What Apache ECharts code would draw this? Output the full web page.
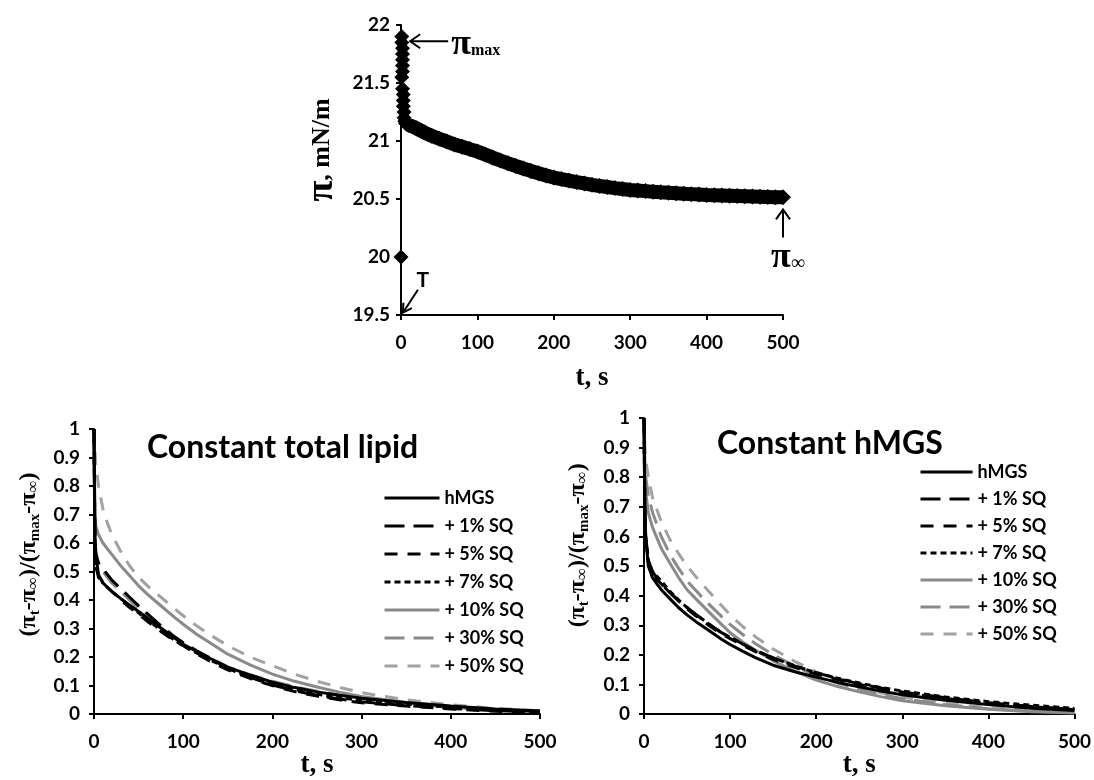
<!DOCTYPE html>
<html>
<head>
<meta charset="utf-8">
<script src="https://cdn.jsdelivr.net/npm/echarts@6/dist/echarts.min.js"></script>
<style>
  html, body { margin: 0; padding: 0; background: #fff; }
  #chart { width: 1094px; height: 780px; }
</style>
</head>
<body>
<div id="chart"></div>
<script>
// ---- top panel: surface pressure after the step (diamonds) ----
var peakT = [0, 1, 1, 2, 2, 2, 2, 2, 1, 2, 3, 3, 3, 4, 4, 5, 6];
var peakPi = [20, 21.9, 21.85, 21.8, 21.75, 21.7, 21.65, 21.6, 21.55, 21.45, 21.4, 21.35, 21.3, 21.25, 21.2, 21.17, 21.15];

var relaxT = [10, 20, 30, 40, 50, 60, 70, 80, 90, 100,
  110, 120, 130, 140, 150, 160, 170, 180, 190, 200,
  210, 220, 230, 240, 250, 260, 270, 280, 290, 300,
  310, 320, 330, 340, 350, 360, 370, 380, 390, 400,
  410, 420, 430, 440, 450, 460, 470, 480, 490, 500];
var relaxPi = [21.14, 21.11, 21.075, 21.045, 21.02, 20.995, 20.97, 20.95, 20.93, 20.91,
  20.883, 20.857, 20.832, 20.808, 20.785, 20.763, 20.742, 20.722, 20.703, 20.685,
  20.672, 20.659, 20.646, 20.634, 20.622, 20.612, 20.603, 20.594, 20.586, 20.578,
  20.573, 20.568, 20.563, 20.558, 20.554, 20.55, 20.546, 20.542, 20.538, 20.534,
  20.532, 20.53, 20.528, 20.526, 20.524, 20.522, 20.52, 20.518, 20.516, 20.515];

// ---- bottom panels: normalised relaxation ----
var decayT = [0, 1, 2, 5, 10, 15, 20, 30, 40, 50, 60, 75, 90, 100, 115, 130, 150, 175, 200, 225, 250, 275, 300, 350, 400, 450, 500];
var seriesNames = ['hMGS', '+ 1% SQ', '+ 5% SQ', '+ 7% SQ', '+ 10% SQ', '+ 30% SQ', '+ 50% SQ'];

// Constant total lipid
var lipidHMGS = [1, .64, .56, .49, .46, .445, .43, .405, .382, .36, .336, .302, .268, .245, .22, .196, .165, .137, .112, .093, .078, .066, .056, .041, .028, .018, .011];
var lipidSQ1  = [1, .6, .56, .53, .51, .49, .47, .44, .41, .38, .352, .31, .272, .25, .222, .196, .16, .129, .102, .082, .066, .053, .043, .03, .02, .012, .007];
var lipidSQ5  = [1, .58, .52, .48, .46, .445, .43, .4, .374, .35, .325, .29, .257, .24, .212, .186, .155, .125, .1, .079, .063, .05, .04, .028, .018, .01, .006];
var lipidSQ7  = [1, .57, .52, .49, .46, .445, .43, .405, .38, .355, .33, .295, .26, .24, .215, .19, .16, .13, .105, .086, .07, .058, .048, .035, .024, .015, .01];
var lipidSQ10 = [1, .7, .66, .63, .6, .58, .56, .52, .485, .45, .42, .38, .34, .315, .28, .25, .21, .173, .14, .115, .095, .077, .062, .04, .024, .014, .008];
var lipidSQ30 = [1, .62, .57, .53, .5, .48, .46, .43, .4, .37, .345, .305, .27, .25, .222, .198, .165, .138, .115, .096, .08, .067, .057, .04, .027, .017, .011];
var lipidSQ50 = [1, .93, .88, .8, .72, .67, .63, .57, .52, .48, .45, .41, .37, .345, .31, .278, .24, .2, .17, .14, .115, .094, .075, .05, .033, .02, .012];

// Constant hMGS
var hmgsHMGS = [1, .7, .6, .5, .46, .44, .42, .39, .36, .335, .313, .283, .253, .235, .212, .19, .165, .143, .125, .107, .092, .078, .065, .047, .032, .02, .012];
var hmgsSQ1  = [1, .68, .6, .52, .48, .46, .44, .41, .385, .36, .337, .305, .275, .26, .236, .214, .19, .163, .14, .12, .102, .088, .075, .055, .038, .026, .016];
var hmgsSQ5  = [1, .66, .58, .51, .47, .455, .44, .41, .382, .355, .332, .3, .27, .255, .232, .21, .185, .158, .135, .117, .1, .085, .072, .053, .037, .025, .015];
var hmgsSQ7  = [1, .67, .59, .52, .48, .465, .45, .415, .386, .36, .337, .305, .275, .26, .236, .214, .19, .163, .14, .121, .105, .09, .078, .058, .042, .03, .019];
var hmgsSQ10 = [1, .8, .75, .68, .63, .595, .56, .51, .462, .42, .39, .346, .303, .275, .243, .215, .18, .145, .115, .093, .075, .059, .045, .028, .016, .008, .004];
var hmgsSQ30 = [1, .85, .8, .74, .68, .64, .6, .54, .493, .45, .418, .372, .33, .303, .268, .237, .2, .162, .13, .105, .085, .067, .052, .032, .018, .01, .005];
var hmgsSQ50 = [1, .9, .86, .8, .73, .69, .65, .59, .543, .5, .465, .415, .367, .335, .295, .26, .22, .178, .142, .114, .091, .072, .057, .036, .022, .013, .007];

var lipidSets = [lipidHMGS, lipidSQ1, lipidSQ5, lipidSQ7, lipidSQ10, lipidSQ30, lipidSQ50];
var hmgsSets = [hmgsHMGS, hmgsSQ1, hmgsSQ5, hmgsSQ7, hmgsSQ10, hmgsSQ30, hmgsSQ50];

// line look per series (same order as seriesNames)
var lineLooks = [
  { color: '#000000', type: 'solid' },
  { color: '#000000', type: [20, 9] },
  { color: '#000000', type: [13, 10] },
  { color: '#000000', type: [6, 4] },
  { color: '#8a8a8a', type: 'solid' },
  { color: '#8a8a8a', type: [20, 9] },
  { color: '#a2a2a2', type: [13, 10] }
];

var serif = '"Liberation Serif", "DejaVu Serif", serif';
var sans = 'Lato, "Open Sans", sans-serif';

var chart = echarts.init(document.getElementById('chart'));

function pairs(xs, ys) {
  return xs.map(function (x, i) { return [x, ys[i]]; });
}

function xAxisOf(grid, gap, margin) {
  return {
    type: 'value', gridIndex: grid, min: 0, max: 500, interval: 100,
    name: 't, s', nameLocation: 'middle', nameGap: gap,
    nameTextStyle: { fontFamily: serif, fontWeight: 'bold', fontSize: 27, color: '#000' },
    axisLine: { lineStyle: { color: '#000', width: 2 } },
    axisTick: { inside: false, length: 5, lineStyle: { color: '#000', width: 2 } },
    axisLabel: { margin: margin, fontFamily: sans, fontWeight: 'bold', fontSize: 19, color: '#000' },
    splitLine: { show: false }
  };
}

function ratioAxis(grid) {
  return {
    type: 'value', gridIndex: grid, min: 0, max: 1, interval: 0.1,
    axisLine: { show: true, lineStyle: { color: '#000', width: 2 } },
    axisTick: { show: true, inside: false, length: 5, lineStyle: { color: '#000', width: 2 } },
    axisLabel: { margin: 14, fontFamily: sans, fontWeight: 'bold', fontSize: 19, color: '#000' },
    splitLine: { show: false }
  };
}

function decaySeries(sets, axisIdx) {
  return sets.map(function (vals, k) {
    return {
      name: seriesNames[k],
      type: 'line',
      xAxisIndex: axisIdx, yAxisIndex: axisIdx,
      data: pairs(decayT, vals),
      symbol: 'none',
      z: 10 - k,
      lineStyle: { color: lineLooks[k].color, type: lineLooks[k].type, width: 3 },
      itemStyle: { color: lineLooks[k].color }
    };
  });
}

function legendAt(left, top, gap, w) {
  return {
    data: seriesNames.map(function (n, k) {
      return {
        name: n,
        itemStyle: { opacity: 0 },
        lineStyle: { color: lineLooks[k].color, type: lineLooks[k].type, width: 3 }
      };
    }),
    orient: 'vertical', left: left, top: top,
    itemWidth: w, itemHeight: 14, itemGap: gap,
    textStyle: { fontFamily: sans, fontWeight: 'bold', fontSize: 18, color: '#000' }
  };
}

var option = {
  animation: false,
  backgroundColor: '#fff',
  title: [
    { text: 'Constant total lipid', left: 142, top: 427,
      textStyle: { fontFamily: sans, fontWeight: 'bold', fontSize: 32, color: '#000' } },
    { text: 'Constant hMGS', left: 712, top: 423,
      textStyle: { fontFamily: sans, fontWeight: 'bold', fontSize: 32, color: '#000' } }
  ],
  legend: [legendAt(378, 484, 10, 55), legendAt(914, 458, 9, 52)],
  grid: [
    { left: 401, top: 25, width: 382, height: 290 },
    { left: 94, top: 429, width: 446, height: 297 },
    { left: 644, top: 418, width: 434, height: 305 }
  ],
  xAxis: [xAxisOf(0, 50, 18), xAxisOf(1, 35, 18), xAxisOf(2, 35, 18)],
  yAxis: [
    {
      type: 'value', gridIndex: 0, min: 19.5, max: 22, interval: 0.5,
      name: '{p|π}{r|, mN/m}', nameLocation: 'middle', nameGap: 60, nameRotate: 90,
      nameTextStyle: {
        padding: [0, 0, 0, 40],
        rich: {
          p: { fontFamily: serif, fontWeight: 'bold', fontSize: 38, color: '#000' },
          r: { fontFamily: serif, fontWeight: 'bold', fontSize: 26, color: '#000' }
        }
      },
      axisLine: { show: true, lineStyle: { color: '#000', width: 2 } },
      axisTick: { show: true, inside: false, length: 5, lineStyle: { color: '#000', width: 2 } },
      axisLabel: { margin: 11, fontFamily: sans, fontWeight: 'bold', fontSize: 19, color: '#000' },
      splitLine: { show: false }
    },
    ratioAxis(1),
    ratioAxis(2)
  ],
  series: [
    {
      name: 'peak', type: 'scatter', xAxisIndex: 0, yAxisIndex: 0,
      data: pairs(peakT, peakPi),
      symbol: 'diamond', symbolSize: 15,
      itemStyle: { color: '#000', opacity: 1 }
    },
    {
      name: 'relax', type: 'line', xAxisIndex: 0, yAxisIndex: 0,
      data: pairs(relaxT, relaxPi),
      symbol: 'diamond', symbolSize: 16, showAllSymbol: true,
      lineStyle: { color: '#000', width: 14 },
      itemStyle: { color: '#000', opacity: 1 }
    }
  ].concat(decaySeries(lipidSets, 1), decaySeries(hmgsSets, 2))
};

chart.setOption(option);

// annotations on the top panel, anchored to data positions
function px(x, y) { return chart.convertToPixel({ gridIndex: 0 }, [x, y]); }
var arrowStyle = { stroke: '#000', lineWidth: 2, fill: null };
var tipMax = px(12, 21.86);
var tipInf = px(500, 20.41);
var tipT = px(2.5, 19.52);

// rotated y titles of the two lower panels
var ratioText = '{b|(π}{s|t}{b|-π}{i|∞}{b|)/(π}{s|max}{b|-π}{i|∞}{b|)}';
var ratioRich = {
  b: { fontFamily: serif, fontWeight: 'bold', fontSize: 24, fill: '#000' },
  s: { fontFamily: serif, fontWeight: 'bold', fontSize: 15, fill: '#000', padding: [12, 0, 0, 0] },
  i: { fontFamily: serif, fontWeight: 'normal', fontSize: 17, fill: '#000', padding: [10, 0, 0, 0] }
};
var leftMid = chart.convertToPixel({ gridIndex: 1 }, [0, 0.56]);
var rightMid = chart.convertToPixel({ gridIndex: 2 }, [0, 0.57]);

chart.setOption({
  graphic: [
    { type: 'polyline', shape: { points: [[tipMax[0], tipMax[1]], [tipMax[0] + 38, tipMax[1]]] }, style: arrowStyle },
    { type: 'polyline', shape: { points: [[tipMax[0] + 10, tipMax[1] - 7], [tipMax[0], tipMax[1]], [tipMax[0] + 10, tipMax[1] + 7]] }, style: arrowStyle },
    { type: 'text', x: tipMax[0] + 41, y: tipMax[1] + 3,
      style: { text: '{p|π}{s|max}', verticalAlign: 'middle', rich: {
        p: { fontFamily: serif, fontWeight: 'bold', fontSize: 36, fill: '#000' },
        s: { fontFamily: serif, fontWeight: 'bold', fontSize: 16, fill: '#000', padding: [14, 0, 0, 0] } } } },

    { type: 'polyline', shape: { points: [[tipInf[0], tipInf[1]], [tipInf[0], tipInf[1] + 28]] }, style: arrowStyle },
    { type: 'polyline', shape: { points: [[tipInf[0] - 7, tipInf[1] + 10], [tipInf[0], tipInf[1]], [tipInf[0] + 7, tipInf[1] + 10]] }, style: arrowStyle },
    { type: 'text', x: tipInf[0] - 12, y: tipInf[1] + 48,
      style: { text: '{p|π}{s|∞}', verticalAlign: 'middle', rich: {
        p: { fontFamily: serif, fontWeight: 'bold', fontSize: 36, fill: '#000' },
        s: { fontFamily: serif, fontWeight: 'normal', fontSize: 20, fill: '#000', padding: [12, 0, 0, 0] } } } },

    { type: 'polyline', shape: { points: [[tipT[0], tipT[1]], [tipT[0] + 15, tipT[1] - 23]] }, style: arrowStyle },
    { type: 'polyline', shape: { points: [[tipT[0] + 0.5, tipT[1] - 10], [tipT[0], tipT[1]], [tipT[0] + 8.9, tipT[1] - 4.5]] }, style: arrowStyle },
    { type: 'text', x: tipT[0] + 20, y: tipT[1] - 32,
      style: { text: 'T', align: 'center', verticalAlign: 'middle',
        fontFamily: sans, fontWeight: 'bold', fontSize: 21, fill: '#000' } },

    { type: 'text', x: leftMid[0] - 65, y: leftMid[1], rotation: Math.PI / 2,
      style: { text: ratioText, align: 'center', verticalAlign: 'middle', rich: ratioRich } },
    { type: 'text', x: rightMid[0] - 66, y: rightMid[1], rotation: Math.PI / 2,
      style: { text: ratioText, align: 'center', verticalAlign: 'middle', rich: ratioRich } }
  ]
});
</script>
</body>
</html>
